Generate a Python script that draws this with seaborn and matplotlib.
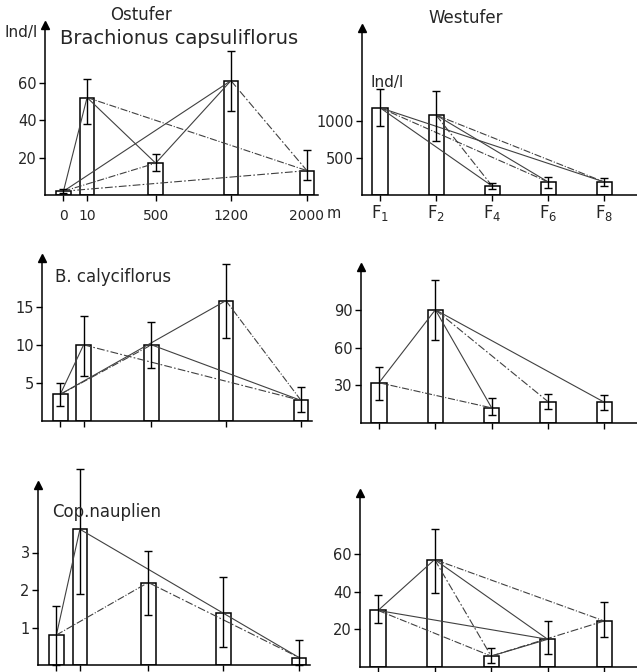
import numpy as np
import pandas as pd
import matplotlib
matplotlib.use("Agg")
import matplotlib.pyplot as plt
import seaborn as sns

# station layout (Ostufer distances are not drawn to scale in the original)
ost_labels = ["0", "10", "500", "1200", "2000"]
ost_pos = [0, 0.32, 1.25, 2.27, 3.3]
west_labels = [r"$\mathrm{F}_1$", r"$\mathrm{F}_2$", r"$\mathrm{F}_4$",
               r"$\mathrm{F}_6$", r"$\mathrm{F}_8$"]
west_pos = [0, 1, 2, 3, 4]

# Brachionus capsuliflorus, Ind/l
bc_ost = [2, 52, 17, 61, 13]
bc_ost_lo = [1, 38, 13, 45, 8]
bc_ost_hi = [3, 62, 22, 77, 24]
bc_west = [1180, 1080, 120, 175, 175]
bc_west_lo = [930, 730, 80, 95, 120]
bc_west_hi = [1430, 1400, 160, 240, 230]

# B. calyciflorus
cal_ost = [3.5, 10, 10, 15.8, 2.7]
cal_ost_lo = [2, 5.9, 7, 10.9, 1.2]
cal_ost_hi = [5, 13.8, 13, 20.6, 4.5]
cal_west = [32, 90, 12, 17, 16.5]
cal_west_lo = [18.5, 66, 6, 11, 10.5]
cal_west_hi = [44.5, 114, 19.5, 23, 22.5]

# Cop. nauplien
cop_ost = [0.8, 3.62, 2.2, 1.4, 0.2]
cop_ost_lo = [0.0, 1.89, 1.33, 0.49, 0.0]
cop_ost_hi = [1.58, 5.24, 3.05, 2.34, 0.68]
cop_west = [30, 57, 5.8, 14.7, 24.4]
cop_west_lo = [23.5, 39.5, 2.3, 6.7, 16]
cop_west_hi = [38.2, 73, 9.9, 24.4, 34.5]

# connecting lines between stations (index pairs)
bc_ost_pairs = [(0, 1), (0, 2), (0, 3), (0, 4), (1, 2), (1, 4), (2, 3), (3, 4)]
bc_west_pairs = [(0, 2), (0, 3), (0, 4), (1, 2), (1, 3), (1, 4)]
cal_ost_pairs = [(0, 1), (0, 2), (0, 3), (1, 4), (2, 4), (3, 4)]
cal_west_pairs = [(0, 1), (0, 2), (1, 2), (1, 3), (1, 4)]
cop_ost_pairs = [(0, 1), (0, 2), (1, 4), (2, 4)]
cop_west_pairs = [(0, 1), (0, 2), (0, 3), (1, 2), (1, 3), (1, 4), (2, 3), (2, 4)]

sns.set_style("white")
plt.rcParams["font.family"] = ["DejaVu Sans"]
plt.rcParams["mathtext.fontset"] = "dejavusans"

W, H = 637, 672
fig = plt.figure(figsize=(W / 100, H / 100), dpi=100)


def make_ax(left, right, top, bottom):
    return fig.add_axes([left / W, 1 - bottom / H, (right - left) / W, (bottom - top) / H])


def panel(ax, pos, vals, lo, hi, pairs, xlim, ymax, yticks, barw):
    df = pd.DataFrame({"x": pos, "y": vals})
    native = min(np.diff(pos))
    sns.barplot(data=df, x="x", y="y", native_scale=True, width=barw / native,
                color="white", edgecolor="black", linewidth=1.1,
                errorbar=None, ax=ax)
    v = np.array(vals)
    ax.errorbar(pos, v, yerr=[v - np.array(lo), np.array(hi) - v], fmt="none",
                ecolor="black", elinewidth=1.0, capsize=3, capthick=1.0,
                clip_on=False, zorder=4)
    styles = ["-", "-.", "-", (0, (7, 2, 1.5, 2))]
    for k, (i, j) in enumerate(pairs):
        ax.plot([pos[i], pos[j]], [vals[i], vals[j]], color="0.25", lw=0.8,
                ls=styles[k % len(styles)], zorder=3)
    ax.set_xlim(*xlim)
    ax.set_ylim(0, ymax)
    ax.set_yticks(yticks)
    ax.set_xticks(pos)
    ax.set_xticklabels([])
    ax.set_xlabel("")
    ax.set_ylabel("")
    sns.despine(ax=ax)
    for s in ["left", "bottom"]:
        ax.spines[s].set_linewidth(1.1)
        ax.spines[s].set_color("black")
    ax.tick_params(axis="both", direction="out", length=4, width=1,
                   color="black", labelsize=10.5, pad=2, bottom=True, left=True)
    ax.plot(0, 1, marker="^", color="black", ms=6, transform=ax.transAxes,
            clip_on=False)


left_xlim = (-0.25, 3.45)
right_xlim = (-0.32, 4.58)

ax1 = make_ax(45, 318, 25, 195)
panel(ax1, ost_pos, bc_ost, bc_ost_lo, bc_ost_hi, bc_ost_pairs,
      left_xlim, 90.7, [20, 40, 60], 0.2)
ax1.set_xticklabels(ost_labels, fontsize=10)
ax1.tick_params(axis="x", pad=6)

ax2 = make_ax(362, 637, 28, 195)
panel(ax2, west_pos, bc_west, bc_west_lo, bc_west_hi, bc_west_pairs,
      right_xlim, 2257, [500, 1000], 0.27)
ax2.set_xticklabels(west_labels, fontsize=12)

ax3 = make_ax(42, 312, 258, 421)
panel(ax3, ost_pos, cal_ost, cal_ost_lo, cal_ost_hi, cal_ost_pairs,
      left_xlim, 21.4, [5, 10, 15], 0.2)

ax4 = make_ax(361, 637, 267, 423)
panel(ax4, west_pos, cal_west, cal_west_lo, cal_west_hi, cal_west_pairs,
      right_xlim, 124, [30, 60, 90], 0.27)

ax5 = make_ax(38, 310, 485, 665)
panel(ax5, ost_pos, cop_ost, cop_ost_lo, cop_ost_hi, cop_ost_pairs,
      left_xlim, 4.8, [1, 2, 3], 0.2)

ax6 = make_ax(360, 637, 493, 667)
panel(ax6, west_pos, cop_west, cop_west_lo, cop_west_hi, cop_west_pairs,
      right_xlim, 92.3, [20, 40, 60], 0.27)

# texts
fig.text(141 / W, 1 - 15 / H, "Ostufer", ha="center", va="center", fontsize=12, color="0.15")
fig.text(466 / W, 1 - 18 / H, "Westufer", ha="center", va="center", fontsize=12, color="0.15")
fig.text(4 / W, 1 - 33 / H, "Ind/l", ha="left", va="center", fontsize=11, color="0.15")
fig.text(60 / W, 1 - 38 / H, "Brachionus capsuliflorus", ha="left", va="center",
         fontsize=14, color="0.15")
fig.text(370 / W, 1 - 82 / H, "Ind/l", ha="left", va="center", fontsize=11, color="0.15")
fig.text(327 / W, 1 - 214 / H, "m", ha="left", va="center", fontsize=10.5, color="0.15")
fig.text(55 / W, 1 - 277 / H, "B. calyciflorus", ha="left", va="center",
         fontsize=12, color="0.15")
fig.text(52 / W, 1 - 512 / H, "Cop.nauplien", ha="left", va="center",
         fontsize=12, color="0.15")

fig.savefig("out.png", dpi=100)
